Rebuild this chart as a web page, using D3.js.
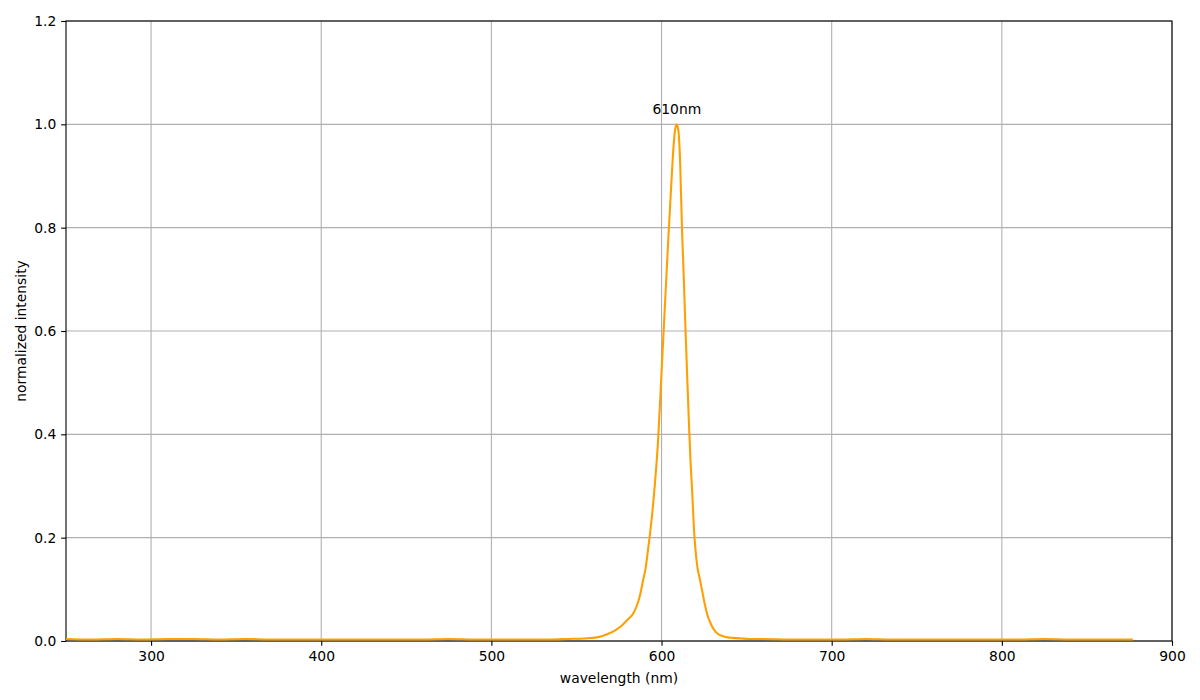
<!DOCTYPE html>
<html>
<head>
<meta charset="utf-8">
<script src="https://cdn.jsdelivr.net/npm/d3@7"></script>
<style>
  html, body { margin: 0; padding: 0; background: #fff; }
  svg { display: block; font-family: "DejaVu Sans", sans-serif; }
</style>
</head>
<body>
<svg id="chart" width="1200" height="700"></svg>
<script>
// Data
const wavelength = [250, 265, 280, 295, 310, 325, 340, 355, 370, 385, 400, 415, 430, 445, 460, 475, 490, 505, 520, 535,
  545, 555, 562, 568, 573, 577, 580, 583.7, 586, 587.6, 589, 590.6, 592, 594, 596, 598, 600, 602, 604, 606, 607, 608, 609,
  610, 611, 612, 613, 614, 615, 616, 617, 618, 619, 620, 621, 622.5, 624, 625.5, 627, 629, 631, 633, 635.5, 638.6, 642,
  646.5, 652, 660, 675, 690, 705, 720, 735, 750, 765, 780, 795, 810, 825, 840, 855, 870, 877];
const intensity = [0.004, 0.003, 0.004, 0.003, 0.004, 0.004, 0.003, 0.004, 0.003, 0.003, 0.003, 0.003, 0.003, 0.003, 0.003, 0.004, 0.003, 0.003, 0.003, 0.003,
  0.004, 0.005, 0.007, 0.013, 0.021, 0.031, 0.041, 0.055, 0.073, 0.092, 0.115, 0.14, 0.175, 0.23, 0.30, 0.39, 0.52, 0.65, 0.78, 0.90, 0.955, 0.99, 1.0,
  0.985, 0.92, 0.80, 0.71, 0.61, 0.52, 0.43, 0.35, 0.29, 0.22, 0.175, 0.145, 0.12, 0.095, 0.07, 0.05, 0.033, 0.021, 0.014, 0.01, 0.007, 0.006,
  0.005, 0.004, 0.004, 0.003, 0.003, 0.003, 0.004, 0.003, 0.003, 0.003, 0.003, 0.003, 0.003, 0.004, 0.003, 0.003, 0.003, 0.003];
const xTicks = [300, 400, 500, 600, 700, 800, 900];
const yTicks = [0.0, 0.2, 0.4, 0.6, 0.8, 1.0, 1.2];
const peakLabel = "610nm";
const xLabel = "wavelength (nm)";
const yLabel = "normalized intensity";

const svg = d3.select("#chart");
const margin = { left: 66, right: 28, top: 21, bottom: 59 };
const W = 1200, H = 700;
const x = d3.scaleLinear().domain([250, 900]).range([margin.left, W - margin.right]);
const y = d3.scaleLinear().domain([0, 1.2]).range([H - margin.bottom, margin.top]);
const fs = 13.89;
const tick = 4.86;

// grid
const grid = svg.append("g");
grid.selectAll("line.vx").data(xTicks).join("line")
  .attr("x1", d => x(d)).attr("x2", d => x(d))
  .attr("y1", y(0)).attr("y2", y(1.2))
  .attr("stroke", "#b0b0b0").attr("stroke-width", 1.1);
grid.selectAll("line.hy").data(yTicks).join("line")
  .attr("x1", x(250)).attr("x2", x(900))
  .attr("y1", d => y(d)).attr("y2", d => y(d))
  .attr("stroke", "#b0b0b0").attr("stroke-width", 1.1);

// frame (drawn below the line so the orange baseline stays visible)
svg.append("rect")
  .attr("x", x(250)).attr("y", y(1.2))
  .attr("width", x(900) - x(250)).attr("height", y(0) - y(1.2))
  .attr("fill", "none").attr("stroke", "#000").attr("stroke-width", 1.1);

// line
const data = wavelength.map((w, i) => [w, intensity[i]]);
const line = d3.line().x(d => x(d[0])).y(d => y(d[1])).curve(d3.curveMonotoneX);
svg.append("path").datum(data)
  .attr("d", line)
  .attr("fill", "none")
  .attr("stroke", "#ff9f00")
  .attr("stroke-width", 2.08)
  .attr("stroke-linejoin", "round");

// peak annotation
const peakIdx = d3.maxIndex(intensity);
svg.append("text")
  .attr("x", x(wavelength[peakIdx]))
  .attr("y", y(1.02))
  .attr("text-anchor", "middle")
  .attr("font-size", fs)
  .text(peakLabel);

// axes
const xAxis = d3.axisBottom(x).tickValues(xTicks).tickFormat(d3.format("d")).tickSize(tick).tickPadding(tick);
const yAxis = d3.axisLeft(y).tickValues(yTicks).tickFormat(d3.format(".1f")).tickSize(tick).tickPadding(tick);
const gx = svg.append("g").attr("transform", `translate(0,${y(0)})`).call(xAxis);
const gy = svg.append("g").attr("transform", `translate(${x(250)},0)`).call(yAxis);
[gx, gy].forEach(g => {
  g.select(".domain").remove();
  g.selectAll("line").attr("stroke", "#000").attr("stroke-width", 1.1);
  g.selectAll("text").attr("font-size", fs).attr("fill", "#000").attr("font-family", "DejaVu Sans, sans-serif");
});

// labels
svg.append("text")
  .attr("x", (x(250) + x(900)) / 2).attr("y", 683)
  .attr("text-anchor", "middle").attr("font-size", fs)
  .text(xLabel);
svg.append("text")
  .attr("transform", `translate(26,${(y(0) + y(1.2)) / 2}) rotate(-90)`)
  .attr("text-anchor", "middle").attr("font-size", fs)
  .text(yLabel);
</script>
</body>
</html>
